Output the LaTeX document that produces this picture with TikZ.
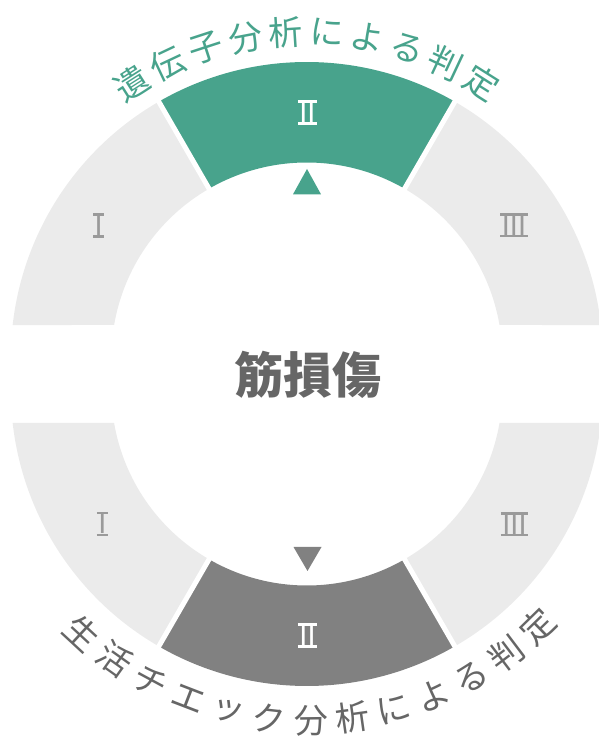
\documentclass[tikz,border=0pt]{standalone}
\usepackage{fontspec}
\newfontfamily\jpfont{Noto Sans CJK JP}
\newfontfamily\numfont{Liberation Sans}
\usetikzlibrary{calc}
\definecolor{tealseg}{HTML}{48A38C}
\definecolor{lightseg}{HTML}{EBEBEB}
\definecolor{darkseg}{HTML}{818181}
\definecolor{numgray}{HTML}{9A9A9A}
\definecolor{txtgray}{HTML}{666666}
\newcommand{\romnum}[1]{%
  \setbox0=\hbox{#1}%
  \dimen0=\dimexpr\wd0+3pt\relax
  \vbox{\hrule width\dimen0 height 2.4pt\kern-0.3pt
    \hbox to\dimen0{\hss\box0\hss}\kern-0.3pt
    \hrule width\dimen0 height 2.4pt}}
\tikzset{
  numlab/.style={inner sep=0pt,font=\numfont\fontsize{29}{29}\selectfont},
  arclab/.style={inner sep=0pt,font=\jpfont\fontsize{34}{34}\selectfont},
  gapline/.style={white,line width=5pt},
}
\begin{document}
\begin{tikzpicture}[x=1pt,y=1pt]
\useasboundingbox (0,0) rectangle (599,737);
\coordinate (T) at (306.8,379);
\coordinate (B) at (306.8,347);
\def\Ro{296}
\def\Ri{195.5}
% top half
\fill[lightseg] ($(T)+(120:\Ro)$) arc[start angle=120,end angle=173.6,radius=\Ro] -- ($(T)+(170.28:\Ri)$) arc[start angle=170.28,end angle=120,radius=\Ri] -- cycle;
\fill[tealseg] ($(T)+(60:\Ro)$) arc[start angle=60,end angle=120,radius=\Ro] -- ($(T)+(120:\Ri)$) arc[start angle=120,end angle=60,radius=\Ri] -- cycle;
\fill[lightseg] ($(T)+(6.4:\Ro)$) arc[start angle=6.4,end angle=60,radius=\Ro] -- ($(T)+(60:\Ri)$) arc[start angle=60,end angle=9.72,radius=\Ri] -- cycle;
\draw[gapline] ($(T)+(60:185)$) -- ($(T)+(60:305)$);
\draw[gapline] ($(T)+(120:185)$) -- ($(T)+(120:305)$);
% bottom half
\fill[lightseg] ($(B)+(-120:\Ro)$) arc[start angle=-120,end angle=-173.6,radius=\Ro] -- ($(B)+(-170.28:\Ri)$) arc[start angle=-170.28,end angle=-120,radius=\Ri] -- cycle;
\fill[darkseg] ($(B)+(-60:\Ro)$) arc[start angle=-60,end angle=-120,radius=\Ro] -- ($(B)+(-120:\Ri)$) arc[start angle=-120,end angle=-60,radius=\Ri] -- cycle;
\fill[lightseg] ($(B)+(-6.4:\Ro)$) arc[start angle=-6.4,end angle=-60,radius=\Ro] -- ($(B)+(-60:\Ri)$) arc[start angle=-60,end angle=-9.72,radius=\Ri] -- cycle;
\draw[gapline] ($(B)+(-60:185)$) -- ($(B)+(-60:305)$);
\draw[gapline] ($(B)+(-120:185)$) -- ($(B)+(-120:305)$);
% triangles
\fill[tealseg] (293,542.7) -- (321,542.7) -- (307,568) -- cycle;
\fill[darkseg] (293.5,190) -- (321.5,190) -- (307.5,166) -- cycle;
% numerals
\node[numlab,text=numgray] (t1) at (98.7,511.5) {\romnum{I}};
\node[numlab,text=white] (t2) at (307.4,624.5) {\romnum{II}};
\node[numlab,text=numgray] (t3) at (514,511.7) {\romnum{III}};
\node[numlab,text=numgray] (b1) at (102.5,213) {\romnum{I}};
\node[numlab,text=white] (b2) at (307.5,101.5) {\romnum{II}};
\node[numlab,text=numgray] (b3) at (514.5,212.8) {\romnum{III}};
% center
\node[inner sep=0pt,text=txtgray,font=\jpfont\bfseries\fontsize{49}{49}\selectfont] (center) at (307.5,362) {筋損傷};
% top arc text
\foreach \ch [count=\i from 0] in {遺,伝,子,分,析,に,よ,る,判,定}{
  \pgfmathsetmacro{\ang}{122.45-7.2*\i}
  \node[arclab,text=tealseg,rotate=\ang-90] (ta\i) at ($(T)+(\ang:326)$) {\ch};
}
% bottom arc text
\foreach \ch [count=\i from 0] in {生,活,チ,エ,ッ,ク,分,析,に,よ,る,判,定}{
  \pgfmathsetmacro{\ang}{-132.8+7.26*\i}
  \node[arclab,text=txtgray,rotate=\ang+90] (ba\i) at ($(B)+(\ang:331)$) {\ch};
}
\end{tikzpicture}
\end{document}
